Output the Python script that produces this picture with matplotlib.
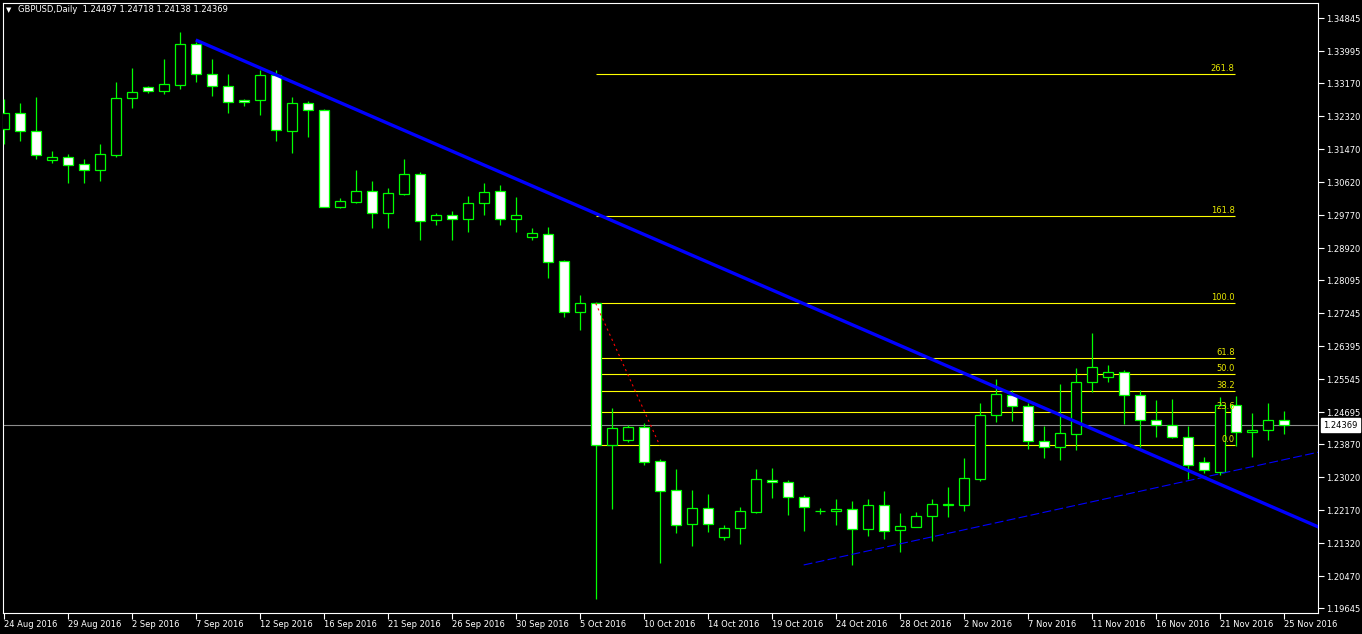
import numpy as np
import matplotlib.pyplot as plt
from matplotlib.transforms import offset_copy, blended_transform_factory

# GBPUSD daily bars, 24 Aug 2016 .. 25 Nov 2016 (broker with Sunday bars)
opens = [1.31987, 1.32399, 1.31936, 1.31189, 1.31266, 1.31086, 1.30931, 1.31333, 1.32786, 1.33069,
         1.32966, 1.33136, 1.34177, 1.33404, 1.33095, 1.32734, 1.32734, 1.33378, 1.31936, 1.32657,
         1.32477, 1.29993, 1.30122, 1.30390, 1.29823, 1.30328, 1.30828, 1.29643, 1.29772, 1.29669,
         1.30081, 1.30390, 1.29669, 1.29205, 1.29282, 1.28587, 1.27289, 1.27505, 1.23862, 1.23991,
         1.24311, 1.23435, 1.22688, 1.21827, 1.22224, 1.21493, 1.21724, 1.22137, 1.22961, 1.22894,
         1.22507, 1.22150, 1.22147, 1.22198, 1.21699, 1.22301, 1.21657, 1.21735, 1.22018, 1.22322,
         1.22317, 1.22987, 1.24620, 1.25135, 1.24852, 1.23950, 1.23796, 1.24146, 1.25470, 1.25599,
         1.25727, 1.25135, 1.24491, 1.24362, 1.24053, 1.23409, 1.23167, 1.24877, 1.24182, 1.24233,
         1.24497]
highs = [1.32768, 1.32665, 1.32819, 1.31428, 1.31343, 1.31222, 1.31608, 1.33206, 1.33566, 1.33103,
         1.33798, 1.34494, 1.34236, 1.33798, 1.33412, 1.32768, 1.33515, 1.33515, 1.32819, 1.32716,
         1.32510, 1.30217, 1.30939, 1.30655, 1.30475, 1.31222, 1.30887, 1.29831, 1.29883, 1.30269,
         1.30604, 1.30552, 1.30243, 1.29445, 1.29470, 1.28620, 1.27719, 1.27538, 1.24808, 1.24362,
         1.24414, 1.23486, 1.23236, 1.22696, 1.22592, 1.21786, 1.22250, 1.23236, 1.23262, 1.22953,
         1.22559, 1.22224, 1.22456, 1.22404, 1.22456, 1.22662, 1.22095, 1.22121, 1.22456, 1.22765,
         1.23520, 1.24937, 1.25555, 1.25272, 1.24929, 1.24352, 1.25426, 1.25838, 1.26740, 1.25916,
         1.25779, 1.25264, 1.25014, 1.25040, 1.24336, 1.23546, 1.25091, 1.25117, 1.24679, 1.24937,
         1.24718]
lows = [1.31608, 1.31694, 1.31230, 1.31127, 1.30612, 1.30612, 1.30663, 1.31281, 1.32544, 1.32930,
        1.32904, 1.33033, 1.33213, 1.32853, 1.32415, 1.32595, 1.32363, 1.31694, 1.31384, 1.31797,
        1.29973, 1.29968, 1.30096, 1.29452, 1.29452, 1.30295, 1.29143, 1.29530, 1.29143, 1.29349,
        1.29787, 1.29530, 1.29349, 1.29148, 1.28164, 1.27160, 1.26817, 1.19888, 1.22206, 1.23940,
        1.23340, 1.20823, 1.21596, 1.21261, 1.21621, 1.21415, 1.21312, 1.22111, 1.22497, 1.22059,
        1.21647, 1.22077, 1.21802, 1.20771, 1.21518, 1.21441, 1.21106, 1.21735, 1.21390, 1.22008,
        1.22162, 1.22935, 1.24455, 1.24481, 1.23759, 1.23528, 1.23476, 1.23734, 1.25228, 1.25485,
        1.24403, 1.23796, 1.24069, 1.24040, 1.22987, 1.23141, 1.23090, 1.23821, 1.23553, 1.23991,
        1.24138]
closes = [1.32399, 1.31951, 1.31333, 1.31266, 1.31060, 1.30931, 1.31343, 1.32786, 1.32940, 1.32966,
          1.33146, 1.34177, 1.33404, 1.33095, 1.32683, 1.32683, 1.33378, 1.31961, 1.32657, 1.32477,
          1.29998, 1.30132, 1.30390, 1.29823, 1.30338, 1.30828, 1.29617, 1.29772, 1.29669, 1.30081,
          1.30364, 1.29669, 1.29772, 1.29308, 1.28577, 1.27289, 1.27505, 1.23847, 1.24285, 1.24311,
          1.23425, 1.22677, 1.21802, 1.22224, 1.21827, 1.21709, 1.22147, 1.22971, 1.22894, 1.22507,
          1.22250, 1.22155, 1.22198, 1.21699, 1.22301, 1.21647, 1.21760, 1.22018, 1.22327, 1.22335,
          1.22997, 1.24620, 1.25161, 1.24852, 1.23950, 1.23796, 1.24156, 1.25470, 1.25856, 1.25727,
          1.25135, 1.24491, 1.24362, 1.24053, 1.23332, 1.23203, 1.24877, 1.24182, 1.24233, 1.24491,
          1.24369]

date_labels = ['24 Aug 2016', '29 Aug 2016', '2 Sep 2016', '7 Sep 2016', '12 Sep 2016',
               '16 Sep 2016', '21 Sep 2016', '26 Sep 2016', '30 Sep 2016', '5 Oct 2016',
               '10 Oct 2016', '14 Oct 2016', '19 Oct 2016', '24 Oct 2016', '28 Oct 2016',
               '2 Nov 2016', '7 Nov 2016', '11 Nov 2016', '16 Nov 2016', '21 Nov 2016',
               '25 Nov 2016']
price_ticks = [1.34845, 1.33995, 1.33170, 1.32320, 1.31470, 1.30620, 1.29770, 1.28920, 1.28095,
               1.27245, 1.26395, 1.25545, 1.24695, 1.23870, 1.23020, 1.22170, 1.21320, 1.20470,
               1.19645]

# chart objects (bar index, price)
trend_bars, trend_prices = [12, 50], [1.34288, 1.27495]
support_bars, support_prices = [50, 76], [1.20764, 1.23113]
fib_bars, fib_prices = [37, 41], [1.27505, 1.23847]
fib_levels = [0.0, 23.6, 38.2, 50.0, 61.8, 100.0, 161.8, 261.8]

W, H = 1362, 634
fig = plt.figure(figsize=(W / 100, H / 100), dpi=100, facecolor='black')
ax = fig.add_axes([3 / W, 21 / H, 1315 / W, 610 / H], facecolor='black')

o, h, l, c = map(np.array, (opens, highs, lows, closes))
idx = np.arange(len(o))
bear = c < o

# candles
ax.vlines(idx, l, h, color='#00FF00', lw=0.9, zorder=3)
ax.bar(idx, np.abs(c - o), bottom=np.minimum(o, c), width=0.62,
       color=np.where(bear, 'white', 'black'), edgecolor='#00FF00', linewidth=0.9, zorder=4)

# bid line
ax.axhline(closes[-1], color='#8c8c8c', lw=0.8, zorder=1)

# fibonacci retracement
fib_end = 76.94
ax.plot(fib_bars, fib_prices, color='red', lw=0.8, linestyle=(0, (2, 3)), zorder=5)
lab_tr = offset_copy(ax.transData, fig, y=1, units='dots')
for lv in fib_levels:
    p = fib_prices[1] + (fib_prices[0] - fib_prices[1]) * lv / 100
    ax.hlines(p, fib_bars[0], fib_end, color='#FFFF00', lw=0.8, zorder=2)
    ax.text(fib_end, p, f'{lv:.1f}', color='#E8E800', fontsize=6, ha='right', va='bottom',
            transform=lab_tr, zorder=7)

# trend lines (rays to the right)
x_end = 84
s1 = (trend_prices[1] - trend_prices[0]) / (trend_bars[1] - trend_bars[0])
ax.plot([trend_bars[0], x_end], [trend_prices[0], trend_prices[0] + s1 * (x_end - trend_bars[0])],
        color='#0000FF', lw=2.4, solid_capstyle='butt', zorder=6)
s2 = (support_prices[1] - support_prices[0]) / (support_bars[1] - support_bars[0])
ax.plot([support_bars[0], x_end], [support_prices[0], support_prices[0] + s2 * (x_end - support_bars[0])],
        color='#0000FF', lw=0.8, linestyle=(0, (8, 3)), zorder=6)

ax.set_xlim(-0.05, 82.15)
ax.set_ylim(1.19527, 1.35241)

ax.yaxis.tick_right()
ax.set_yticks(price_ticks)
ax.set_yticklabels([f'{v:.5f}' for v in price_ticks])
ax.tick_params(axis='y', colors='white', labelsize=6, length=4, width=0.8, pad=2)
ax.set_xticks(np.arange(0, len(o), 4))
ax.set_xticklabels(date_labels, ha='left')
ax.tick_params(axis='x', colors='white', labelsize=6, length=4, width=0.8, pad=1)
for sp in ax.spines.values():
    sp.set_color('white')
    sp.set_linewidth(0.8)

# current price box
tr = blended_transform_factory(ax.transAxes, ax.transData)
ax.text(1.0, closes[-1], f'{closes[-1]:.5f}', transform=offset_copy(tr, fig, x=5, units='dots'),
        color='black', fontsize=6, ha='left', va='center', clip_on=False, zorder=10,
        bbox=dict(boxstyle='square,pad=0.3', fc='white', ec='white'))

# header
fig.text(6 / W, 1 - 10 / H, '▼', color='white', fontsize=5, va='center')
fig.text(18 / W, 1 - 10 / H,
         f'GBPUSD,Daily  {opens[-1]:.5f} {highs[-1]:.5f} {lows[-1]:.5f} {closes[-1]:.5f}',
         color='white', fontsize=6, va='center')

fig.savefig('out.png', dpi=100, facecolor='black')
